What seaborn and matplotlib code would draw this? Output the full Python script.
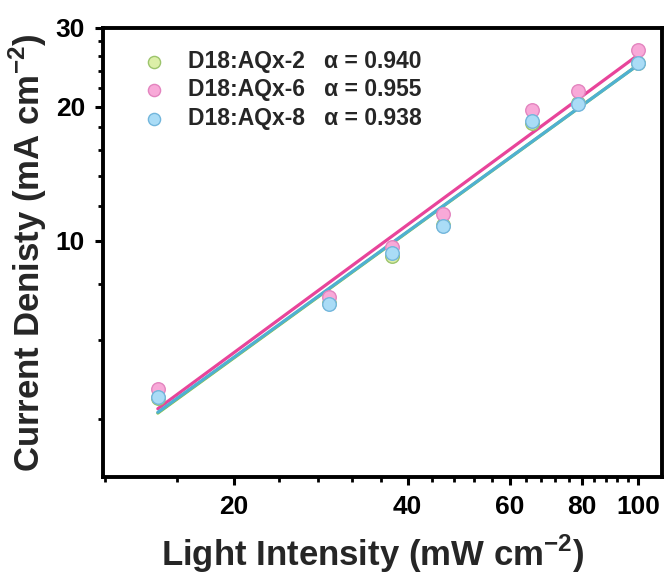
import numpy as np
import pandas as pd
import matplotlib
matplotlib.use("Agg")
import matplotlib.pyplot as plt
import seaborn as sns
from matplotlib import font_manager
from matplotlib.ticker import FixedLocator, FixedFormatter, NullFormatter

# ---------------- data ----------------
light_intensity = [14.8, 29.3, 37.6, 46.0, 65.5, 78.6, 100.0]
jsc_aqx2 = [4.45, 7.25, 9.25, 10.85, 18.4, 20.4, 25.0]
jsc_aqx6 = [4.66, 7.50, 9.71, 11.5, 19.7, 21.7, 26.8]
jsc_aqx8 = [4.48, 7.22, 9.38, 10.8, 18.6, 20.3, 25.1]

series_names = ["D18:AQx-2", "D18:AQx-6", "D18:AQx-8"]
alpha_values = [0.940, 0.955, 0.938]
fit_jsc_at_100 = [24.8, 26.1, 24.8]   # fitted line value at 100 mW cm^-2

x_major = [20, 40, 60, 80, 100]
x_major_labels = ["20", "40", "60", "80", "100"]
x_minor = [12, 16, 24, 28, 32, 36, 44, 48, 52, 56, 64, 68, 72, 76, 84, 88, 92, 96]
y_major = [10, 20, 30]
y_major_labels = ["10", "20", "30"]
y_minor = [4, 6, 8, 12, 14, 16, 18, 22, 24, 26, 28]

# ---------------- style ----------------
sns.set_theme(style="ticks")
names = {f.name for f in font_manager.fontManager.ttflist}
narrow = "Liberation Sans Narrow" if "Liberation Sans Narrow" in names else "Liberation Sans"
is_narrow = narrow == "Liberation Sans Narrow"
plt.rcParams["font.family"] = ["Liberation Sans", "DejaVu Sans"]
plt.rcParams["font.weight"] = "bold"
plt.rcParams["mathtext.fontset"] = "custom"
plt.rcParams["mathtext.rm"] = narrow + ":bold"
plt.rcParams["mathtext.bf"] = narrow + ":bold"

face_colors = ["#dcefa8", "#f8a9d8", "#aadcf6"]
edge_colors = ["#9cc46c", "#e384bf", "#72b6dc"]
line_colors = ["#8dc63f", "#e8449a", "#4fb0d2"]

fig = plt.figure(figsize=(6.65, 5.81), dpi=100)
ax = fig.add_axes([103 / 665, 1 - 477 / 581, (662 - 103) / 665, (477 - 28) / 581])

df = pd.DataFrame({
    "x": light_intensity * 3,
    "y": jsc_aqx2 + jsc_aqx6 + jsc_aqx8,
    "series": sum([[n] * len(light_intensity) for n in series_names], []),
})

# fit lines
for i, name in enumerate(series_names):
    xs = np.array([light_intensity[0], light_intensity[-1]])
    ys = fit_jsc_at_100[i] * (xs / 100.0) ** alpha_values[i]
    sns.lineplot(x=xs, y=ys, ax=ax, color=line_colors[i], lw=2.3, legend=False,
                 zorder=2 + i)

# points
for i, name in enumerate(series_names):
    sub = df[df["series"] == name]
    sns.scatterplot(data=sub, x="x", y="y", ax=ax, color=face_colors[i],
                    edgecolor=edge_colors[i], linewidth=1.0, s=95,
                    label=f"{name}   α = {alpha_values[i]:.3f}", zorder=6 + i)

ax.set_xscale("log")
ax.set_yscale("log")
ax.set_xlim(11.9, 110)
ax.set_ylim(2.96, 30)

ax.xaxis.set_major_locator(FixedLocator(x_major))
ax.xaxis.set_major_formatter(FixedFormatter(x_major_labels))
ax.xaxis.set_minor_locator(FixedLocator(x_minor))
ax.xaxis.set_minor_formatter(NullFormatter())
ax.yaxis.set_major_locator(FixedLocator(y_major))
ax.yaxis.set_major_formatter(FixedFormatter(y_major_labels))
ax.yaxis.set_minor_locator(FixedLocator(y_minor))
ax.yaxis.set_minor_formatter(NullFormatter())

tick_fs = 21 if is_narrow else 19
label_fs = 30 if is_narrow else 25
ax.tick_params(which="major", direction="out", length=6, width=2.2, pad=7,
               labelsize=tick_fs, colors="black")
ax.tick_params(which="minor", direction="out", length=3.5, width=2.0, colors="black")
ax.tick_params(top=False, right=False, which="both")
for lab in ax.get_xticklabels() + ax.get_yticklabels():
    lab.set_fontfamily(narrow)
    lab.set_fontweight("bold")

for sp in ax.spines.values():
    sp.set_visible(True)
    sp.set_linewidth(2.8)
    sp.set_color("black")

ax.set_xlabel(r"Light Intensity (mW cm$^{\mathbf{-2}}$)", fontsize=label_fs,
              fontfamily=narrow, fontweight="bold")
ax.xaxis.set_label_coords(0.483, -0.125)
ax.set_ylabel(r"Current Denisty (mA cm$^{\mathbf{-2}}$)", fontsize=label_fs,
              fontfamily=narrow, fontweight="bold", labelpad=5)

leg = ax.legend(loc="upper left", bbox_to_anchor=(0.054, 0.972), frameon=False,
                prop={"family": "Liberation Sans", "weight": "bold", "size": 16.5},
                handletextpad=1.0, labelspacing=0.24, borderaxespad=0.0,
                handlelength=1.0, markerscale=0.9)

fig.savefig("out.png", dpi=100)
